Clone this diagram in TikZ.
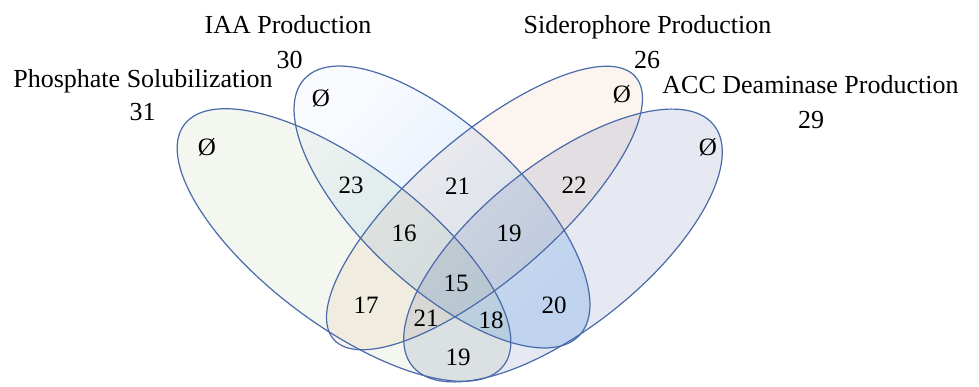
\documentclass[tikz,border=0pt]{standalone}
\usepackage{fontspec}
\setmainfont{Liberation Serif}
\definecolor{vennline}{HTML}{4A6AAA}
\definecolor{fillA}{HTML}{F3F7F0}
\definecolor{fillBtop}{HTML}{FAFBFE}
\definecolor{fillBbot}{HTML}{D4E8FB}
\definecolor{fillC}{HTML}{FCF4EF}
\definecolor{fillD}{HTML}{E6E9F2}
\begin{document}
\begin{tikzpicture}[x=1pt,y=-1pt,
  vline/.style={draw=vennline, line width=1.2pt},
  lbl/.style={font=\fontsize{26}{30}\selectfont, anchor=base, inner sep=0pt, text=black},
  num/.style={font=\fontsize{25}{28}\selectfont, inner sep=0pt, text=black}]
\useasboundingbox (0,0) rectangle (979,386);
% fills
\begin{scope}[blend mode=multiply]
\fill[fillA, rotate around={-37:(344,245)}] (344,245) ellipse [x radius=200, y radius=80];
\shade[top color=fillBtop, bottom color=fillBbot, shading angle=47, rotate around={-43:(442,207)}] (442,207) ellipse [x radius=188, y radius=80];
\fill[fillC, rotate around={41:(484.5,208)}] (484.5,208) ellipse [x radius=200, y radius=71];
\fill[fillD, rotate around={38.6:(563,245.5)}] (563,245.5) ellipse [x radius=193, y radius=82];
\end{scope}
% outlines
\draw[vline, rotate around={-37:(344,245)}] (344,245) ellipse [x radius=200, y radius=80];
\draw[vline, rotate around={-43:(442,207)}] (442,207) ellipse [x radius=188, y radius=80];
\draw[vline, rotate around={41:(484.5,208)}] (484.5,208) ellipse [x radius=200, y radius=71];
\draw[vline, rotate around={38.6:(563,245.5)}] (563,245.5) ellipse [x radius=193, y radius=82];
% set labels
\node[lbl] (labA) at (143,87) {Phosphate Solubilization};
\node[lbl] (cntA) at (142.5,120) {31};
\node[lbl] (labB) at (288,33) {IAA Production};
\node[lbl] (cntB) at (289.5,68) {30};
\node[lbl] (labC) at (647.5,33) {Siderophore Production};
\node[lbl] (cntC) at (647,68) {26};
\node[lbl] (labD) at (810.5,93) {ACC Deaminase Production};
\node[lbl] (cntD) at (811,128) {29};
% region numbers
\node[num] (rA) at (207,147) {Ø};
\node[num] (rB) at (321,98) {Ø};
\node[num] (rC) at (622,94) {Ø};
\node[num] (rD) at (708,147) {Ø};
\node[num] (rAB) at (351,185) {23};
\node[num] (rBC) at (457.5,186) {21};
\node[num] (rCD) at (574,185) {22};
\node[num] (rABC) at (404,233) {16};
\node[num] (rBCD) at (509,233) {19};
\node[num] (rABCD) at (456,283) {15};
\node[num] (rAC) at (366,305) {17};
\node[num] (rBD) at (554,305) {20};
\node[num] (rACD) at (426,318) {21};
\node[num] (rABD) at (491,320) {18};
\node[num] (rAD) at (458,357) {19};
\end{tikzpicture}
\end{document}
